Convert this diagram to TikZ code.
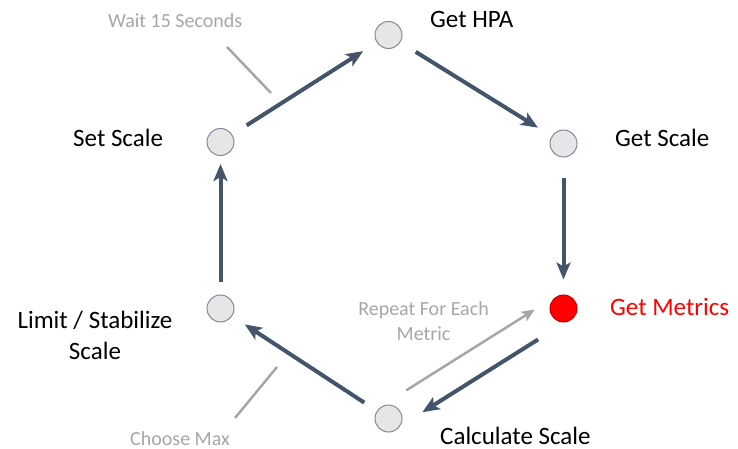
\documentclass[tikz,border=0pt]{standalone}
\usepackage{fontspec}
\setmainfont{Carlito}
\usetikzlibrary{arrows.meta}
\definecolor{slate}{HTML}{44546A}
\definecolor{hint}{HTML}{A6A6A6}
\definecolor{dotfill}{HTML}{E7E6E6}
\definecolor{dotline}{HTML}{7F8A9C}

\begin{document}
\begin{tikzpicture}[x=1pt,y=-1pt,
    stage/.style = {draw=dotline, circle, fill=dotfill, line width=1pt, minimum size=27pt, inner sep=0pt},
    label/.style = {font=\fontsize{25}{31}\selectfont, inner sep=0pt},
    hinttext/.style = {font=\fontsize{20}{25}\selectfont, text=hint, inner sep=0pt},
    flow/.style = {line width=4pt, slate, -{Stealth[length=17pt,width=14pt,inset=4pt]}},
    hintline/.style = {line width=2.5pt, hint}]
  \useasboundingbox (0,0) rectangle (738,449);
  % stages
  \node[stage] (hpa) at (388.5,35) {};
  \node[stage] (getscale) at (563.5,143.5) {};
  \node[stage, fill=red, draw=red!75!black] (metrics) at (563.5,308.5) {};
  \node[stage] (calc) at (388.5,418.5) {};
  \node[stage] (limit) at (220.5,308.5) {};
  \node[stage] (setscale) at (220.5,142) {};
  % labels
  \node[label, anchor=base west] (hpalbl) at (430,28) {Get HPA};
  \node[label, anchor=base west] (getscalelbl) at (615,147) {Get Scale};
  \node[label, anchor=base west, text=red] (metricslbl) at (610,315) {Get Metrics};
  \node[label, anchor=base west] (calclbl) at (440,444) {Calculate Scale};
  \node[label, anchor=base, align=center] (limitlbl) at (95,359) {Limit / Stabilize\\Scale};
  \node[label, anchor=base west] (setscalelbl) at (73,147) {Set Scale};
  \node[hinttext, anchor=base west] (waitlbl) at (108,28) {Wait 15 Seconds};
  \node[hinttext, anchor=base, align=center] (repeatlbl) at (423.5,340) {Repeat For Each\\Metric};
  \node[hinttext, anchor=base west] (maxlbl) at (130,445) {Choose Max};
  % cycle
  \draw[flow, shorten <=17pt, shorten >=16pt] (setscale) -- (hpa);
  \draw[flow, shorten <=18pt, shorten >=16pt] (hpa) -- (getscale);
  \draw[flow, shorten <=21pt, shorten >=15pt] (getscale) -- (metrics);
  \draw[flow, shorten <=30pt, shorten >=40pt] ([yshift=-15pt]metrics.center) -- ([yshift=-15pt]calc.center);
  \draw[flow, shorten <=15pt, shorten >=15pt] (calc) -- (limit);
  \draw[flow, shorten <=13pt, shorten >=8pt] (limit) -- (setscale);
  % hints
  \draw[hintline, shorten <=21pt, shorten >=34pt, -{Stealth[length=13pt,width=11pt,inset=3pt]}]
    ([yshift=17pt]calc.center) -- ([yshift=17pt]metrics.center);
  \coordinate (waitA) at (227,47);
  \coordinate (waitB) at (271,93);
  \draw[hintline] (waitA) -- (waitB);
  \coordinate (maxA) at (235,418);
  \coordinate (maxB) at (277,367);
  \draw[hintline] (maxA) -- (maxB);
\end{tikzpicture}
\end{document}
